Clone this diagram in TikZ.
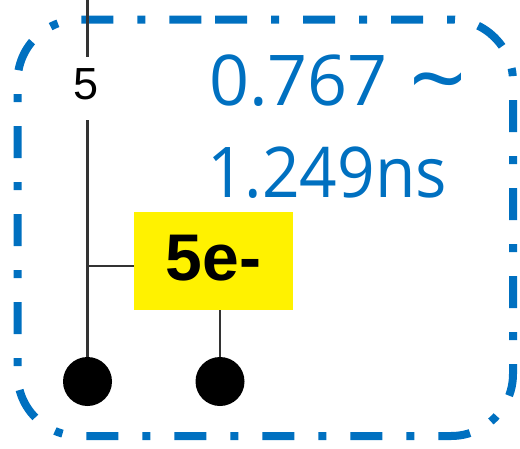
\documentclass[tikz,border=0pt]{standalone}
\usepackage{fontspec}
\usepackage{graphicx}
\setmainfont{Liberation Sans}
\newfontfamily\handfont{Open Sans}
\definecolor{dblue}{HTML}{0070C0}
\definecolor{wiregray}{HTML}{333333}
\begin{document}
\begin{tikzpicture}[x=1pt,y=-1pt,
  frame/.style={draw=dblue,line width=8pt,rounded corners=62pt,
    dash pattern=on 32pt off 24pt on 8pt off 24pt},
  wire/.style={draw=wiregray,line width=2.2pt},
  dotnode/.style={circle,fill=black,minimum size=49pt,inner sep=0pt},
  lbl/.style={inner sep=0pt,font=\fontsize{45}{50}\selectfont},
  ebox/.style={fill=yellow,inner sep=0pt,minimum width=159pt,
    text height=68pt,text depth=30pt,font=\fontsize{66}{70}\selectfont\bfseries},
  hand/.style={inner sep=0pt,text=dblue,anchor=base west,font=\fontsize{70}{80}\selectfont\handfont}]
\useasboundingbox (0,0) rectangle (520,448);
\draw[frame] (153,19.5) -- (513,19.5) -- (513,436) -- (17.5,436) -- (17.5,19.5) -- cycle;
\coordinate (top) at (87.5,0);
\coordinate (g1) at (87.5,57);
\node[lbl] (n5) at (86,84) {5};
\coordinate (g2) at (87.5,120);
\coordinate (j) at (87.5,266);
\node[ebox] (bx) at (213.5,261) {5e-};
\node[dotnode] (c1) at (87.5,381.5) {};
\node[dotnode] (c2) at (220,381.5) {};
\draw[wire] (top) -- (g1);
\draw[wire] (g2) -- (c1);
\draw[wire] (j) -- (j -| bx.west);
\draw[wire] (c2 |- bx.south) -- (c2);
\node[hand] (t1) at (209,105) {0.767\hspace{22pt}{\fontsize{100}{100}\selectfont\raisebox{-9pt}{\textasciitilde}}};
\node[hand] (t2) at (207,197) {\scalebox{0.94}[1]{1.249ns}};
\end{tikzpicture}
\end{document}
